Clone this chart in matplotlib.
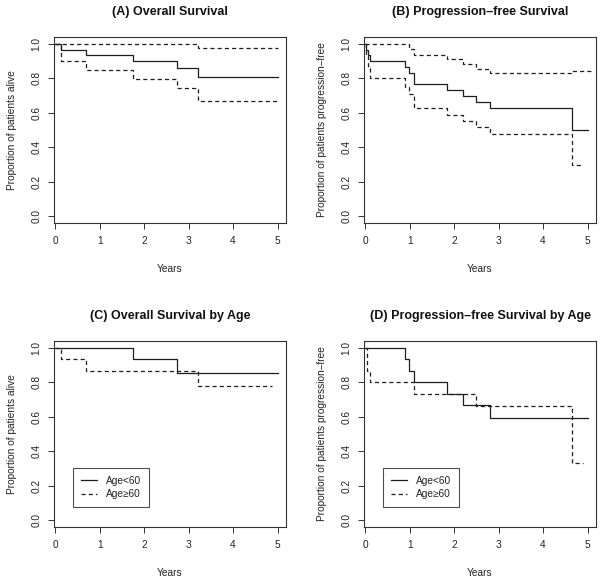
import matplotlib
matplotlib.use("Agg")
import matplotlib.pyplot as plt

plt.rcParams['font.family'] = ['Liberation Sans', 'DejaVu Sans']
plt.rcParams['lines.scale_dashes'] = False

# ---------------- data ----------------
titles = ["(A) Overall Survival", "(B) Progression\u2013free Survival",
          "(C) Overall Survival by Age", "(D) Progression\u2013free Survival by Age"]
ylabels = ["Proportion of patients alive", "Proportion of patients progression\u2013free",
           "Proportion of patients alive", "Proportion of patients progression\u2013free"]
xlabel = "Years"
xticks = [0, 1, 2, 3, 4, 5]
yticks = [0.0, 0.2, 0.4, 0.6, 0.8, 1.0]
legend_labels = ["Age<60", "Age\u226560"]

# (A) overall survival with 95% CI
A_time = [0, 0.135, 0.70, 1.757, 2.73, 3.20, 5.0]
A_surv = [1.0, 0.967, 0.933, 0.900, 0.861, 0.809, 0.809]
A_upper = [1.0, 1.0, 1.0, 1.0, 1.0, 0.977, 0.977]
A_lower = [1.0, 0.903, 0.847, 0.797, 0.745, 0.667, 0.667]

# (B) progression-free survival with 95% CI
B_time = [0, 0.02, 0.05, 0.10, 0.895, 0.98, 1.10, 1.84, 2.20, 2.50, 2.80, 4.65, 5.0]
B_surv = [1.0, 0.967, 0.933, 0.900, 0.867, 0.833, 0.767, 0.733, 0.700, 0.663, 0.630, 0.500, 0.500]
B_up_time = [0, 0.02, 0.05, 0.10, 0.895, 0.98, 1.10, 1.84, 2.20, 2.50, 2.80, 4.65, 5.1]
B_upper = [1.0, 1.0, 1.0, 1.0, 1.0, 0.970, 0.935, 0.910, 0.885, 0.855, 0.830, 0.845, 0.845]
B_lo_time = [0, 0.02, 0.05, 0.10, 0.895, 0.98, 1.10, 1.84, 2.20, 2.50, 2.80, 4.65, 4.9]
B_lower = [1.0, 0.930, 0.870, 0.800, 0.750, 0.710, 0.630, 0.590, 0.553, 0.515, 0.475, 0.297, 0.297]

# (C) overall survival by age
C_time_lt60 = [0, 1.757, 2.73, 5.0]
C_surv_lt60 = [1.0, 0.933, 0.857, 0.857]
C_time_ge60 = [0, 0.135, 0.70, 3.20, 4.87]
C_surv_ge60 = [1.0, 0.933, 0.867, 0.778, 0.778]

# (D) progression-free survival by age
D_time_lt60 = [0, 0.895, 0.98, 1.10, 1.84, 2.20, 2.80, 5.0]
D_surv_lt60 = [1.0, 0.933, 0.867, 0.800, 0.733, 0.667, 0.593, 0.593]
D_time_ge60 = [0, 0.045, 0.10, 1.10, 2.50, 4.65, 4.90]
D_surv_ge60 = [1.0, 0.867, 0.800, 0.733, 0.660, 0.330, 0.330]

# ---------------- layout ----------------
W, H = 603, 583
fig = plt.figure(figsize=(W / 100, H / 100), dpi=100)

boxes = {  # left, top, right, bottom in pixels
    0: (54, 37, 286, 223),
    1: (364, 37, 596, 223),
    2: (54, 341, 286, 527),
    3: (364, 341, 596, 527),
}

LC = '#1e1e1e'
SOLID = dict(color=LC, lw=0.9, linestyle='-')
DASH = dict(color=LC, lw=0.9, linestyle=(0, (3, 2.2)))
FS = 7.3
TFS = 9.0

axes = []
for i in range(4):
    l, t, r, b = boxes[i]
    ax = fig.add_axes([l / W, 1 - b / H, (r - l) / W, (b - t) / H])
    ax.set_xlim(-0.03, 5.19)
    ax.set_ylim(-0.04, 1.04)
    ax.set_xticks(xticks)
    ax.set_xticklabels([str(x) for x in xticks])
    ax.set_yticks(yticks)
    ax.set_yticklabels([f"{y:.1f}" for y in yticks], rotation=90, va='center')
    ax.tick_params(direction='out', length=4.1, width=0.7, colors='#333333',
                   labelsize=FS, labelcolor='#222222', pad=5.5)
    ax.tick_params(axis='y', pad=5.0)
    for s in ax.spines.values():
        s.set_color('#333333')
        s.set_linewidth(0.8)
    ax.text(0.5, -0.245, xlabel, transform=ax.transAxes, ha='center', va='center',
            fontsize=FS, color='#222222')
    ax.text(-0.18, 0.5, ylabels[i], transform=ax.transAxes, ha='center', va='center',
            rotation=90, fontsize=FS, color='#222222')
    fig.text((l + r) / 2 / W, 1 - (t - 25) / H, titles[i], ha='center', va='center',
             fontsize=TFS, fontweight='bold', color='#111111')
    axes.append(ax)

axA, axB, axC, axD = axes

axA.step(A_time, A_surv, where='post', **SOLID)
axA.step(A_time, A_upper, where='post', **DASH)
axA.step(A_time, A_lower, where='post', **DASH)

axB.step(B_time, B_surv, where='post', **SOLID)
axB.step(B_up_time, B_upper, where='post', **DASH)
axB.step(B_lo_time, B_lower, where='post', **DASH)

axC.step(C_time_lt60, C_surv_lt60, where='post', label=legend_labels[0], **SOLID)
axC.step(C_time_ge60, C_surv_ge60, where='post', label=legend_labels[1], **DASH)

axD.step(D_time_lt60, D_surv_lt60, where='post', label=legend_labels[0], **SOLID)
axD.step(D_time_ge60, D_surv_ge60, where='post', label=legend_labels[1], **DASH)

for ax in (axC, axD):
    leg = ax.legend(loc='lower left', bbox_to_anchor=(0.082, 0.108), fontsize=FS,
                    handlelength=1.6, handletextpad=0.9, borderpad=0.75,
                    labelspacing=0.35, borderaxespad=0, fancybox=False,
                    frameon=True)
    fr = leg.get_frame()
    fr.set_edgecolor('#222222')
    fr.set_linewidth(0.8)
    fr.set_boxstyle('square', pad=0)
    for tx in leg.get_texts():
        tx.set_color('#222222')

fig.savefig("out.png", dpi=100)
